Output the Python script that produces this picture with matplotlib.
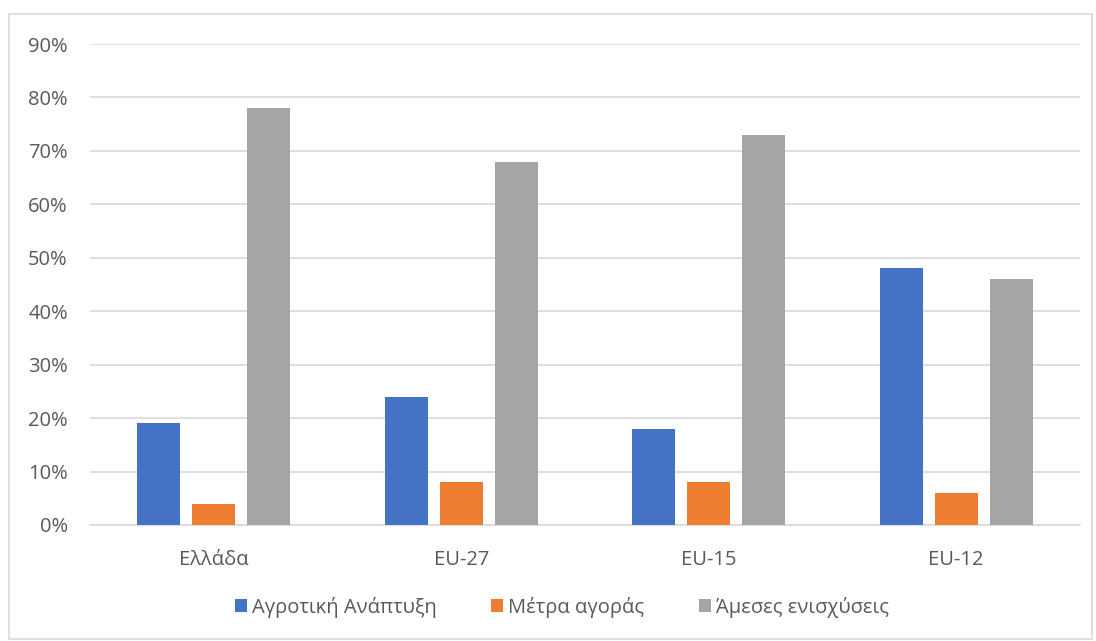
import matplotlib
matplotlib.use('Agg')
import matplotlib.pyplot as plt
from matplotlib.patches import Rectangle
import numpy as np

categories = ['Ελλάδα', 'EU-27', 'EU-15', 'EU-12']
series_names = ['Αγροτική Ανάπτυξη', 'Μέτρα αγοράς', 'Άμεσες ενισχύσεις']
agri_dev = [19, 24, 18, 48]
market = [4, 8, 8, 6]
direct = [78, 68, 73, 46]
colors = ['#4472C4', '#ED7D31', '#A5A5A5']

plt.rcParams['font.family'] = ['Open Sans', 'DejaVu Sans']

W, H = 1096, 641
fig = plt.figure(figsize=(W / 100, H / 100), dpi=100)
ax = fig.add_axes([90 / W, 1 - 525 / H, (1080 - 90) / W, (525 - 44) / H])

x = np.arange(len(categories))
width = 0.174
step = 0.222
for i, (vals, name) in enumerate(zip([agri_dev, market, direct], series_names)):
    ax.bar(x + (i - 1) * step, vals, width, color=colors[i], label=name, zorder=3)

ax.set_xlim(-0.5, len(categories) - 0.5)
ax.set_ylim(0, 90)
ax.set_yticks(np.arange(0, 91, 10))
ax.set_yticklabels([f'{v}%' for v in range(0, 91, 10)])
ax.set_xticks(x)
ax.set_xticklabels(categories)
ax.grid(axis='y', color='#D9D9D9', linewidth=1.2, zorder=0)
for s in ['top', 'right', 'left']:
    ax.spines[s].set_visible(False)
ax.spines['bottom'].set_color('#D9D9D9')
ax.spines['bottom'].set_linewidth(1.2)
ax.tick_params(axis='both', length=0, labelsize=14.5, colors='#595959')
ax.tick_params(axis='y', pad=16)
ax.tick_params(axis='x', pad=18)

leg = fig.legend(loc='center', bbox_to_anchor=(562 / W, 1 - 607 / H), ncol=3,
                 frameon=False, fontsize=14.5, handlelength=0.6, handleheight=0.6,
                 handletextpad=0.25, columnspacing=2.7)
for t in leg.get_texts():
    t.set_color('#595959')

fig.patches.append(Rectangle((9 / W, 2 / H), (W - 13) / W, (H - 16) / H,
                             transform=fig.transFigure, fill=False,
                             edgecolor='#D9D9D9', linewidth=1.2))

fig.savefig('out.png', dpi=100)
